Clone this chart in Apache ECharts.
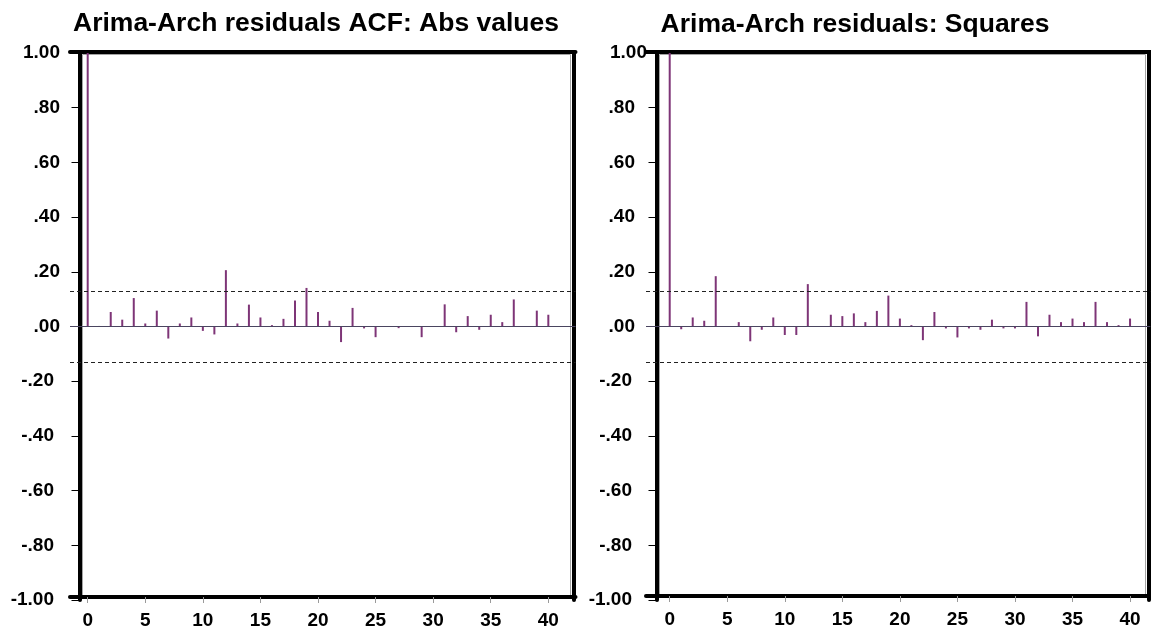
<!DOCTYPE html>
<html>
<head>
<meta charset="utf-8">
<script src="https://cdn.jsdelivr.net/npm/echarts@6/dist/echarts.min.js"></script>
<style>
  html, body { margin: 0; padding: 0; background: #ffffff; }
  #chart { width: 1151px; height: 635px; }
</style>
</head>
<body>
<div id="chart"></div>
<script>
// Lags 0..40 shared by both correlograms
const lags = [0, 1, 2, 3, 4, 5, 6, 7, 8, 9, 10, 11, 12, 13, 14, 15, 16, 17, 18, 19, 20,
              21, 22, 23, 24, 25, 26, 27, 28, 29, 30, 31, 32, 33, 34, 35, 36, 37, 38, 39, 40];

// ACF of absolute residuals
const absAcf = [1.000, 0.002, 0.053, 0.025, 0.104, 0.011, 0.058, -0.044, 0.011, 0.033, -0.016,
                -0.029, 0.206, 0.011, 0.080, 0.033, 0.005, 0.028, 0.095, 0.141, 0.053,
                0.021, -0.057, 0.068, -0.007, -0.039, 0.001, -0.006, 0.001, -0.039, 0.001,
                0.081, -0.021, 0.038, -0.012, 0.043, 0.016, 0.099, 0.001, 0.058, 0.043];

// ACF of squared residuals
const sqAcf = [1.000, -0.010, 0.033, 0.021, 0.184, 0.001, 0.016, -0.054, -0.012, 0.033, -0.031,
               -0.031, 0.155, 0.001, 0.043, 0.038, 0.048, 0.016, 0.057, 0.113, 0.029,
               0.005, -0.050, 0.053, -0.007, -0.040, -0.007, -0.012, 0.025, -0.007, -0.007,
               0.090, -0.036, 0.043, 0.016, 0.029, 0.016, 0.090, 0.016, 0.005, 0.029];

// Approximate 95% confidence band
const bandLimit = 0.125;

// Tick values
const xTickValues = [0, 5, 10, 15, 20, 25, 30, 35, 40];
const yMin = -1, yMax = 1, yStep = 0.2;

const titles = ['Arima-Arch residuals ACF: Abs values', 'Arima-Arch residuals: Squares'];

const FONT = 'Liberation Sans, Arial, Helvetica, sans-serif';
const BAR_COLOR = '#7e3577';

function fmtTick(v) {
  if (Math.abs(v) < 1e-9) return '.00';
  const s = Math.abs(v).toFixed(2);
  const t = s.charAt(0) === '0' ? s.slice(1) : s;
  return (v < 0 ? '-' : '') + t;
}

const labelBase = { fontFamily: FONT, fontSize: 19, fontWeight: 'bold', color: '#000' };

// Panel layout (frame and scale placement)
const panels = [
  {
    title: titles[0], titleX: 316, titleTop: 10, values: absAcf,
    gridLeft: 70, gridWidth: 505.5, xMin: -1.537, xMax: 42.36,
    leftOffset: -9.5, rightOffset: -2, bottomOffset: -3, labelMargin: 19.5,
    inner: { left: 82.5, top: 54.5, width: 488, height: 542 },
    labelFmt: function (v) {
      const s = fmtTick(v);
      return v < -1e-9 ? '{n|' + s + '}' : '{p|' + s + '}';
    },
    rich: {
      p: Object.assign({}, labelBase),
      n: Object.assign({ padding: [0, 6, 0, 0] }, labelBase)
    }
  },
  {
    title: titles[1], titleX: 855, titleTop: 11, values: sqAcf,
    gridLeft: 646, gridWidth: 504.3, xMin: -2.06, xMax: 41.76,
    leftOffset: -10.5, rightOffset: -2, bottomOffset: -4, labelMargin: 9.5,
    inner: { left: 659.5, top: 54.5, width: 486, height: 541 },
    labelFmt: function (v) {
      const s = fmtTick(v);
      if (v < -1e-9) return '{n|' + s + '}';
      if (v > 0.999) return '{a|' + s + '}';
      return '{p|' + s + '}';
    },
    rich: {
      a: Object.assign({}, labelBase),
      p: Object.assign({ padding: [0, 12, 0, 0] }, labelBase),
      n: Object.assign({ padding: [0, 15, 0, 0] }, labelBase)
    }
  }
];

const option = {
  animation: false,
  backgroundColor: '#ffffff',
  title: [],
  grid: [],
  xAxis: [],
  yAxis: [],
  series: []
};

panels.forEach(function (p) {
  option.title.push({
    text: p.title,
    left: p.titleX,
    top: p.titleTop,
    textAlign: 'center',
    padding: 0,
    textStyle: { fontFamily: FONT, fontSize: 26.5, fontWeight: 'bold', color: '#000' }
  });

  option.grid.push({
    left: p.gridLeft, top: 53, width: p.gridWidth, height: 547,
    show: false, containLabel: false
  });
});

// Thin grey inner frame lines
panels.forEach(function (p) {
  option.grid.push({
    left: p.inner.left, top: p.inner.top, width: p.inner.width, height: p.inner.height,
    show: true, borderColor: '#a4a4a4', borderWidth: 1, backgroundColor: 'transparent'
  });
});

const frameLine = { show: true, onZero: false, lineStyle: { color: '#000', width: 4 } };

panels.forEach(function (p, i) {
  // bottom axis (scale) and top axis (frame edge)
  option.xAxis.push({
    gridIndex: i, type: 'value', position: 'bottom', offset: p.bottomOffset,
    min: p.xMin, max: p.xMax,
    axisLine: frameLine,
    axisTick: { show: true, customValues: xTickValues, length: 6, inside: false,
                lineStyle: { color: '#9a9a9a', width: 1 } },
    axisLabel: { show: true, customValues: xTickValues, margin: 14,
                 fontFamily: FONT, fontSize: 19, fontWeight: 'bold', color: '#000',
                 formatter: function (v) { return String(Math.round(v)); } },
    splitLine: { show: false }
  });
  option.xAxis.push({
    gridIndex: i, type: 'value', position: 'top', offset: 1,
    min: p.xMin, max: p.xMax,
    axisLine: frameLine,
    axisTick: { show: false }, axisLabel: { show: false }, splitLine: { show: false }
  });

  option.yAxis.push({
    gridIndex: i, type: 'value', position: 'left', offset: p.leftOffset,
    min: yMin, max: yMax, interval: yStep,
    axisLine: frameLine,
    axisTick: { show: true, length: 8, inside: false, lineStyle: { color: '#000', width: 1 } },
    axisLabel: { show: true, margin: p.labelMargin, formatter: p.labelFmt, rich: p.rich,
                 fontFamily: FONT, fontSize: 19, fontWeight: 'bold', color: '#000' },
    splitLine: { show: false }
  });
  option.yAxis.push({
    gridIndex: i, type: 'value', position: 'right', offset: p.rightOffset,
    min: yMin, max: yMax, interval: yStep,
    axisLine: frameLine,
    axisTick: { show: false }, axisLabel: { show: false }, splitLine: { show: false }
  });
});

// Hidden axes for the inner frame grids
panels.forEach(function (p, i) {
  option.xAxis.push({ gridIndex: 2 + i, type: 'value', show: false, min: 0, max: 1 });
  option.yAxis.push({ gridIndex: 2 + i, type: 'value', show: false, min: 0, max: 1 });
});

panels.forEach(function (p, i) {
  option.series.push({
    type: 'bar',
    name: p.title,
    xAxisIndex: i * 2,
    yAxisIndex: i * 2,
    barWidth: 2,
    itemStyle: { color: BAR_COLOR },
    data: lags.map(function (lag, k) { return [lag, p.values[k]]; }),
    silent: true,
    z: 3,
    markLine: {
      silent: true,
      symbol: ['none', 'none'],
      label: { show: false },
      emphasis: { disabled: true },
      data: [
        { yAxis: 0, lineStyle: { color: '#4a4560', width: 1, type: 'solid' } },
        { yAxis: bandLimit, lineStyle: { color: '#222', width: 1, type: [4, 3] } },
        { yAxis: -bandLimit, lineStyle: { color: '#222', width: 1, type: [4, 3] } }
      ]
    }
  });
});

const chart = echarts.init(document.getElementById('chart'), null, { renderer: 'canvas' });
chart.setOption(option);
</script>
</body>
</html>
